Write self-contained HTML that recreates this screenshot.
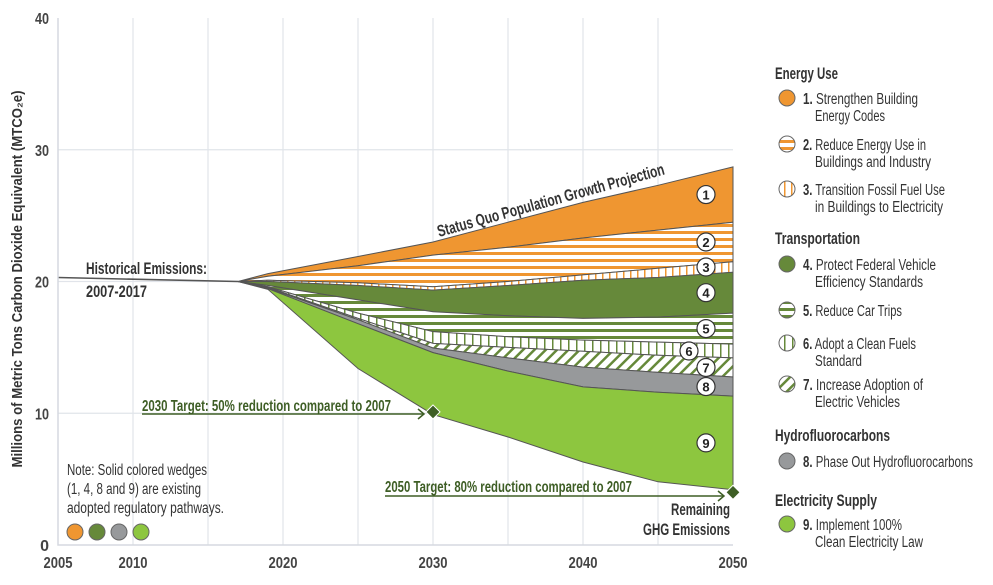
<!DOCTYPE html>
<html><head><meta charset="utf-8"><style>
html,body{margin:0;padding:0;background:#fff;}
svg{display:block;font-family:"Liberation Sans Narrow","Liberation Sans",sans-serif;}
</style></head><body>
<svg id="chart" width="993" height="585" viewBox="0 0 993 585" xmlns="http://www.w3.org/2000/svg">
<defs>
<pattern id="p-hor-orange" patternUnits="userSpaceOnUse" width="8" height="7"><rect width="8" height="7" fill="#fff"/><rect y="0" width="8" height="3" fill="#ef9631"/></pattern>
<pattern id="p-ver-orange" patternUnits="userSpaceOnUse" width="7" height="8"><rect width="7" height="8" fill="#fff"/><rect x="0" width="1.5" height="8" fill="#ef9631"/></pattern>
<pattern id="p-hor-green" patternUnits="userSpaceOnUse" width="8" height="7"><rect width="8" height="7" fill="#fff"/><rect y="0" width="8" height="3" fill="#66893a"/></pattern>
<pattern id="p-ver-green" patternUnits="userSpaceOnUse" width="8" height="8"><rect width="8" height="8" fill="#fff"/><rect x="0" width="1.5" height="8" fill="#66893a"/></pattern>
<pattern id="p-diag-green" patternUnits="userSpaceOnUse" width="8" height="8" patternTransform="rotate(45)"><rect width="8" height="8" fill="#fff"/><rect x="0" width="2.5" height="8" fill="#66893a"/></pattern>
</defs>
<g id="grid"></g>
<g id="wedges"></g>
<g id="labels"></g>
<g id="axes"></g>

<text transform="translate(22,279) rotate(-90)" text-anchor="middle" font-size="14.5" font-weight="bold" fill="#333" textLength="377" lengthAdjust="spacingAndGlyphs">Millions of Metric Tons Carbon Dioxide Equivalent (MTCO₂e)</text>

<text transform="translate(439,237) rotate(-15.5)" font-size="16.5" font-weight="bold" fill="#333" textLength="235" lengthAdjust="spacingAndGlyphs">Status Quo Population Growth Projection</text>
<text x="86" y="274" font-size="16.5" font-weight="bold" fill="#333" textLength="121" lengthAdjust="spacingAndGlyphs">Historical Emissions:</text>
<text x="86" y="297" font-size="16.5" font-weight="bold" fill="#333" textLength="61" lengthAdjust="spacingAndGlyphs">2007-2017</text>

<g>
<text x="142" y="411" font-size="15.5" font-weight="bold" fill="#3e5e25" textLength="249" lengthAdjust="spacingAndGlyphs">2030 Target: 50% reduction compared to 2007</text>
<line x1="142" y1="414" x2="424" y2="414" stroke="#3e5e25" stroke-width="1.5"/>
<polyline points="418,409 424,414 418,419" fill="none" stroke="#3e5e25" stroke-width="1.5"/>
</g>
<g>
<text x="385" y="492" font-size="15.5" font-weight="bold" fill="#3e5e25" textLength="247" lengthAdjust="spacingAndGlyphs">2050 Target: 80% reduction compared to 2007</text>
<line x1="385" y1="496" x2="724" y2="496" stroke="#3e5e25" stroke-width="1.5"/>
<polyline points="718,491 724,496 718,501" fill="none" stroke="#3e5e25" stroke-width="1.5"/>
</g>
<g id="diamonds"></g>
<text x="671" y="515" font-size="16.5" font-weight="bold" fill="#333" textLength="59" lengthAdjust="spacingAndGlyphs">Remaining</text>
<text x="643" y="535" font-size="16.5" font-weight="bold" fill="#333" textLength="87" lengthAdjust="spacingAndGlyphs">GHG Emissions</text>

<g font-size="15.5" fill="#333">
<text x="67" y="475" textLength="140" lengthAdjust="spacingAndGlyphs">Note: Solid colored wedges</text>
<text x="67" y="494" textLength="134" lengthAdjust="spacingAndGlyphs">(1, 4, 8 and 9) are existing</text>
<text x="67" y="513" textLength="157" lengthAdjust="spacingAndGlyphs">adopted regulatory pathways.</text>
<circle cx="75" cy="532" r="8" fill="#ef9631" stroke="#666"/>
<circle cx="97" cy="532" r="8" fill="#66893a" stroke="#666"/>
<circle cx="119" cy="532" r="8" fill="#97999b" stroke="#666"/>
<circle cx="141" cy="532" r="8" fill="#8dc63f" stroke="#666"/>
</g>

<g font-size="15.5" fill="#333">
<text x="775" y="79" font-size="16.5" font-weight="bold" textLength="63" lengthAdjust="spacingAndGlyphs">Energy Use</text>
<g><circle cx="787" cy="98" r="8" fill="#ef9631" stroke="#666"/><text x="803" y="104" textLength="115" lengthAdjust="spacingAndGlyphs"><tspan font-weight="bold">1.</tspan> Strengthen Building</text><text x="815" y="121" textLength="70" lengthAdjust="spacingAndGlyphs">Energy Codes</text></g>
<g><circle cx="787" cy="144" r="8" fill="url(#p-hor-orange)" stroke="#666"/><text x="803" y="150" textLength="123" lengthAdjust="spacingAndGlyphs"><tspan font-weight="bold">2.</tspan> Reduce Energy Use in</text><text x="815" y="167" textLength="116" lengthAdjust="spacingAndGlyphs">Buildings and Industry</text></g>
<g><circle cx="787" cy="189" r="8" fill="url(#p-ver-orange)" stroke="#666"/><text x="803" y="195" textLength="142" lengthAdjust="spacingAndGlyphs"><tspan font-weight="bold">3.</tspan> Transition Fossil Fuel Use</text><text x="815" y="212" textLength="128" lengthAdjust="spacingAndGlyphs">in Buildings to Electricity</text></g>
<text x="775" y="244" font-size="16.5" font-weight="bold" textLength="85" lengthAdjust="spacingAndGlyphs">Transportation</text>
<g><circle cx="787" cy="264" r="8" fill="#66893a" stroke="#666"/><text x="803" y="270" textLength="133" lengthAdjust="spacingAndGlyphs"><tspan font-weight="bold">4.</tspan> Protect Federal Vehicle</text><text x="815" y="287" textLength="108" lengthAdjust="spacingAndGlyphs">Efficiency Standards</text></g>
<g><circle cx="787" cy="310" r="8" fill="url(#p-hor-green)" stroke="#666"/><text x="803" y="316" textLength="99" lengthAdjust="spacingAndGlyphs"><tspan font-weight="bold">5.</tspan> Reduce Car Trips</text></g>
<g><circle cx="787" cy="343" r="8" fill="url(#p-ver-green)" stroke="#666"/><text x="803" y="349" textLength="113" lengthAdjust="spacingAndGlyphs"><tspan font-weight="bold">6.</tspan> Adopt a Clean Fuels</text><text x="815" y="366" textLength="47" lengthAdjust="spacingAndGlyphs">Standard</text></g>
<g><circle cx="787" cy="384" r="8" fill="url(#p-diag-green)" stroke="#666"/><text x="803" y="390" textLength="120" lengthAdjust="spacingAndGlyphs"><tspan font-weight="bold">7.</tspan> Increase Adoption of</text><text x="815" y="407" textLength="85" lengthAdjust="spacingAndGlyphs">Electric Vehicles</text></g>
<text x="775" y="441" font-size="16.5" font-weight="bold" textLength="115" lengthAdjust="spacingAndGlyphs">Hydrofluorocarbons</text>
<g><circle cx="787" cy="461" r="8" fill="#97999b" stroke="#666"/><text x="803" y="467" textLength="170" lengthAdjust="spacingAndGlyphs"><tspan font-weight="bold">8.</tspan> Phase Out Hydrofluorocarbons</text></g>
<text x="775" y="506" font-size="16.5" font-weight="bold" textLength="102" lengthAdjust="spacingAndGlyphs">Electricity Supply</text>
<g><circle cx="787" cy="524" r="8" fill="#8dc63f" stroke="#666"/><text x="803" y="530" textLength="99" lengthAdjust="spacingAndGlyphs"><tspan font-weight="bold">9.</tspan> Implement 100%</text><text x="815" y="547" textLength="108" lengthAdjust="spacingAndGlyphs">Clean Electricity Law</text></g>
</g>
</svg>
<script>
const years = [2017, 2019, 2025, 2030, 2035, 2040, 2045, 2050];
const topLine = [20.0, 20.6, 21.9, 23.0, 24.5, 26.0, 27.3, 28.7];
const b12 = [20.0, 20.4, 21.2, 22.0, 22.6, 23.3, 23.9, 24.5];
const b23 = [20.0, 20.1, 19.9, 19.6, 20.0, 20.5, 21.0, 21.5];
const b34 = [20.0, 20.0, 19.7, 19.35, 19.7, 20.1, 20.3, 20.7];
const b45 = [20.0, 19.7, 18.6, 17.7, 17.4, 17.2, 17.3, 17.6];
const b56 = [20.0, 19.6, 17.6, 16.2, 15.8, 15.55, 15.4, 15.25];
const b67 = [20.0, 19.55, 17.2, 15.3, 15.0, 14.7, 14.4, 14.2];
const b78 = [20.0, 19.5, 17.1, 14.95, 14.2, 13.5, 13.1, 12.75];
const b89 = [20.0, 19.45, 16.8, 14.6, 13.2, 12.0, 11.6, 11.3];
const bottomLine = [20.0, 19.4, 13.4, 9.9, 8.2, 6.3, 4.8, 4.2];
const histYears = [2005, 2017];
const histValues = [20.3, 20.0];
const xTicks = [2005, 2010, 2020, 2030, 2040, 2050];
const yTicks = [0, 10, 20, 30, 40];
const targetYears = [2030, 2050];
const targetValues = [10.1, 4.0];

const X0 = 58, X1 = 733, Y0 = 545, Y1 = 18;
const xs = y => X0 + (y - 2005) / 45 * (X1 - X0);
const ys = v => Y0 - v / 40 * (Y0 - Y1);
const NS = 'http://www.w3.org/2000/svg';
function mk(tag, attrs, parent) { const e = document.createElementNS(NS, tag); for (const k in attrs) e.setAttribute(k, attrs[k]); parent.appendChild(e); return e; }

const grid = document.getElementById('grid');
for (let yr = 2010; yr <= 2045; yr += 5) {
  const l = mk('line', {x1: xs(yr), x2: xs(yr), y1: Y1, y2: Y0, stroke: '#e1e4ea', 'stroke-width': 1.2}, grid);
  
  
}
for (const v of [10, 20, 30]) {
  const l = mk('line', {x1: X0, x2: X1, y1: ys(v), y2: ys(v), stroke: '#e1e4ea', 'stroke-width': 1.2}, grid);
  
  
}
const axes = document.getElementById('axes');
const ax = mk('path', {d: `M${X0},${Y1} V${Y0} H${X1}`, fill: 'none', stroke: '#d5d9e0', 'stroke-width': 1.5}, axes);


xTicks.forEach(t => {
  const e = mk('text', {x: xs(t), y: Y0 + 23, 'text-anchor': 'middle', 'font-size': 16, 'font-weight': 'bold', fill: '#444', textLength: 29, lengthAdjust: 'spacingAndGlyphs'}, axes);
  e.textContent = t;
  
  
});
yTicks.forEach(t => {
  const attrs = {x: X0 - 9, y: ys(t) + 6, 'text-anchor': 'end', 'font-size': 16, 'font-weight': 'bold', fill: '#444'};
  if (String(t).length > 1) { attrs.textLength = 14; attrs.lengthAdjust = 'spacingAndGlyphs'; }
  const e = mk('text', attrs, axes);
  e.textContent = t;
  
  
});

const wedges = document.getElementById('wedges');
const bounds = [topLine, b12, b23, b34, b45, b56, b67, b78, b89, bottomLine];
const fills = ['#ef9631', 'url(#p-hor-orange)', 'url(#p-ver-orange)', '#66893a', 'url(#p-hor-green)', 'url(#p-ver-green)', 'url(#p-diag-green)', '#97999b', '#8dc63f'];
function pts(arr) { return arr.map((v, i) => `${xs(years[i]).toFixed(1)},${ys(v).toFixed(1)}`); }
for (let w = 0; w < 9; w++) {
  const up = pts(bounds[w]), lo = pts(bounds[w + 1]).reverse();
  const p = mk('path', {d: 'M' + up.join(' L') + ' L' + lo.join(' L') + ' Z', fill: fills[w], stroke: '#555', 'stroke-width': 1}, wedges);
  
  
}
const hist = mk('polyline', {points: histYears.map((y, i) => `${xs(y)},${ys(histValues[i])}`).join(' ') + ` ${xs(years[0])},${ys(topLine[0])}`, fill: 'none', stroke: '#555', 'stroke-width': 1.5}, wedges);



const labels = document.getElementById('labels');
const li = years.length - 1;
for (let w = 0; w < 9; w++) {
  const mid = (bounds[w][li] + bounds[w + 1][li]) / 2;
  const cx = w === 5 ? 689 : 706;
  const g = mk('g', {}, labels);
  
  
  mk('circle', {cx: cx, cy: ys(mid), r: 9, fill: '#fff', stroke: '#333', 'stroke-width': 1.2}, g);
  const t = mk('text', {x: cx, y: ys(mid) + 5, 'text-anchor': 'middle', 'font-size': 13, 'font-weight': 'bold', fill: '#222'}, g);
  t.textContent = w + 1;
}
const dia = document.getElementById('diamonds');
targetYears.forEach((y, i) => {
  const cx = xs(y), cy = ys(targetValues[i]);
  const d = mk('path', {d: `M${cx},${cy - 7} L${cx + 7},${cy} L${cx},${cy + 7} L${cx - 7},${cy} Z`, fill: '#3e5e25', stroke: '#fff', 'stroke-width': 1}, dia);
  
  
});
</script>
</body></html>
